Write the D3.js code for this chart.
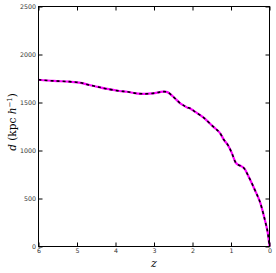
<!DOCTYPE html>
<html>
<head>
<meta charset="utf-8">
<script src="https://cdn.jsdelivr.net/npm/d3@7"></script>
<style>
  body { margin: 0; background: #fff; }
  svg { display: block; }
</style>
</head>
<body>
<svg width="276" height="273"></svg>
<script>
// redshift vs distance
const zValues = [6.0, 5.6, 5.2, 4.9, 4.68, 4.45, 4.25, 3.9, 3.7, 3.47, 3.25, 3.03, 2.85, 2.76, 2.65, 2.5, 2.32, 2.19, 2.13, 2.08, 2.03, 1.95, 1.72, 1.46, 1.30, 1.18, 1.07, 0.97, 0.88, 0.82, 0.74, 0.66, 0.55, 0.38, 0.25, 0.12, 0.05, 0];
const dValues = [1737, 1725, 1717, 1705, 1682, 1662, 1644, 1620, 1612, 1596, 1590, 1595, 1608, 1613, 1608, 1560, 1492, 1460, 1446, 1443, 1430, 1408, 1345, 1248, 1189, 1109, 1050, 965, 875, 853, 838, 815, 735, 589, 467, 276, 154, 0];
const xTicks = [6, 5, 4, 3, 2, 1, 0];
const yTicks = [0, 500, 1000, 1500, 2000, 2500];

const svg = d3.select('svg');
const mLeft = 38.5, mRight = 269.5, mTop = 6.5, mBottom = 246.5;

const x = d3.scaleLinear().domain([6, 0]).range([mLeft, mRight]);
const y = d3.scaleLinear().domain([0, 2500]).range([mBottom, mTop]);

const pts = zValues.map((z, i) => [z, dValues[i]]);

const line = d3.line()
    .x(d => x(d[0]))
    .y(d => y(d[1]))
    .curve(d3.curveCatmullRom);

svg.append('path')
    .attr('d', line(pts))
    .attr('fill', 'none')
    .attr('stroke', '#ff00ff')
    .attr('stroke-width', 2.2);

svg.append('path')
    .attr('d', line(pts))
    .attr('fill', 'none')
    .attr('stroke', '#000')
    .attr('stroke-width', 1.6)
    .attr('stroke-dasharray', '3,3');

// frame
svg.append('rect')
    .attr('x', mLeft).attr('y', mTop)
    .attr('width', mRight - mLeft).attr('height', mBottom - mTop)
    .attr('fill', 'none').attr('stroke', '#000').attr('stroke-width', 1);

// inward ticks, all four sides
const tickLen = 4;
const axB = d3.axisBottom(x).tickValues(xTicks).tickSizeInner(-tickLen).tickSizeOuter(0).tickPadding(2.5).tickFormat(d3.format('d'));
const axT = d3.axisTop(x).tickValues(xTicks).tickSizeInner(-tickLen).tickSizeOuter(0).tickFormat('');
const axL = d3.axisLeft(y).tickValues(yTicks).tickSizeInner(-tickLen).tickSizeOuter(0).tickPadding(2.5).tickFormat(d3.format('d'));
const axR = d3.axisRight(y).tickValues(yTicks).tickSizeInner(-tickLen).tickSizeOuter(0).tickFormat('');

[[axB, `translate(0,${mBottom})`], [axT, `translate(0,${mTop})`],
 [axL, `translate(${mLeft},0)`], [axR, `translate(${mRight},0)`]].forEach(([ax, tr]) => {
    const g = svg.append('g').attr('transform', tr).call(ax);
    g.select('.domain').remove();
    g.selectAll('text')
        .attr('font-family', 'DejaVu Sans, sans-serif')
        .attr('font-size', 6.3)
        .attr('fill', '#333');
});

svg.append('text')
    .attr('x', 154).attr('y', 267)
    .attr('text-anchor', 'middle')
    .attr('font-family', 'DejaVu Serif, serif')
    .attr('font-style', 'italic')
    .attr('font-size', 11)
    .text('z');

const yl = svg.append('text')
    .attr('transform', `translate(16,122) rotate(-90)`)
    .attr('text-anchor', 'middle')
    .attr('font-family', 'DejaVu Serif, serif')
    .attr('font-size', 10.5);
yl.append('tspan').attr('font-style', 'italic').text('d');
yl.append('tspan').text(' (kpc ');
yl.append('tspan').attr('font-style', 'italic').text('h');
yl.append('tspan').attr('font-size', 7).attr('dy', -4).text('\u22121');
yl.append('tspan').attr('dy', 4).text(')');
</script>
</body>
</html>
